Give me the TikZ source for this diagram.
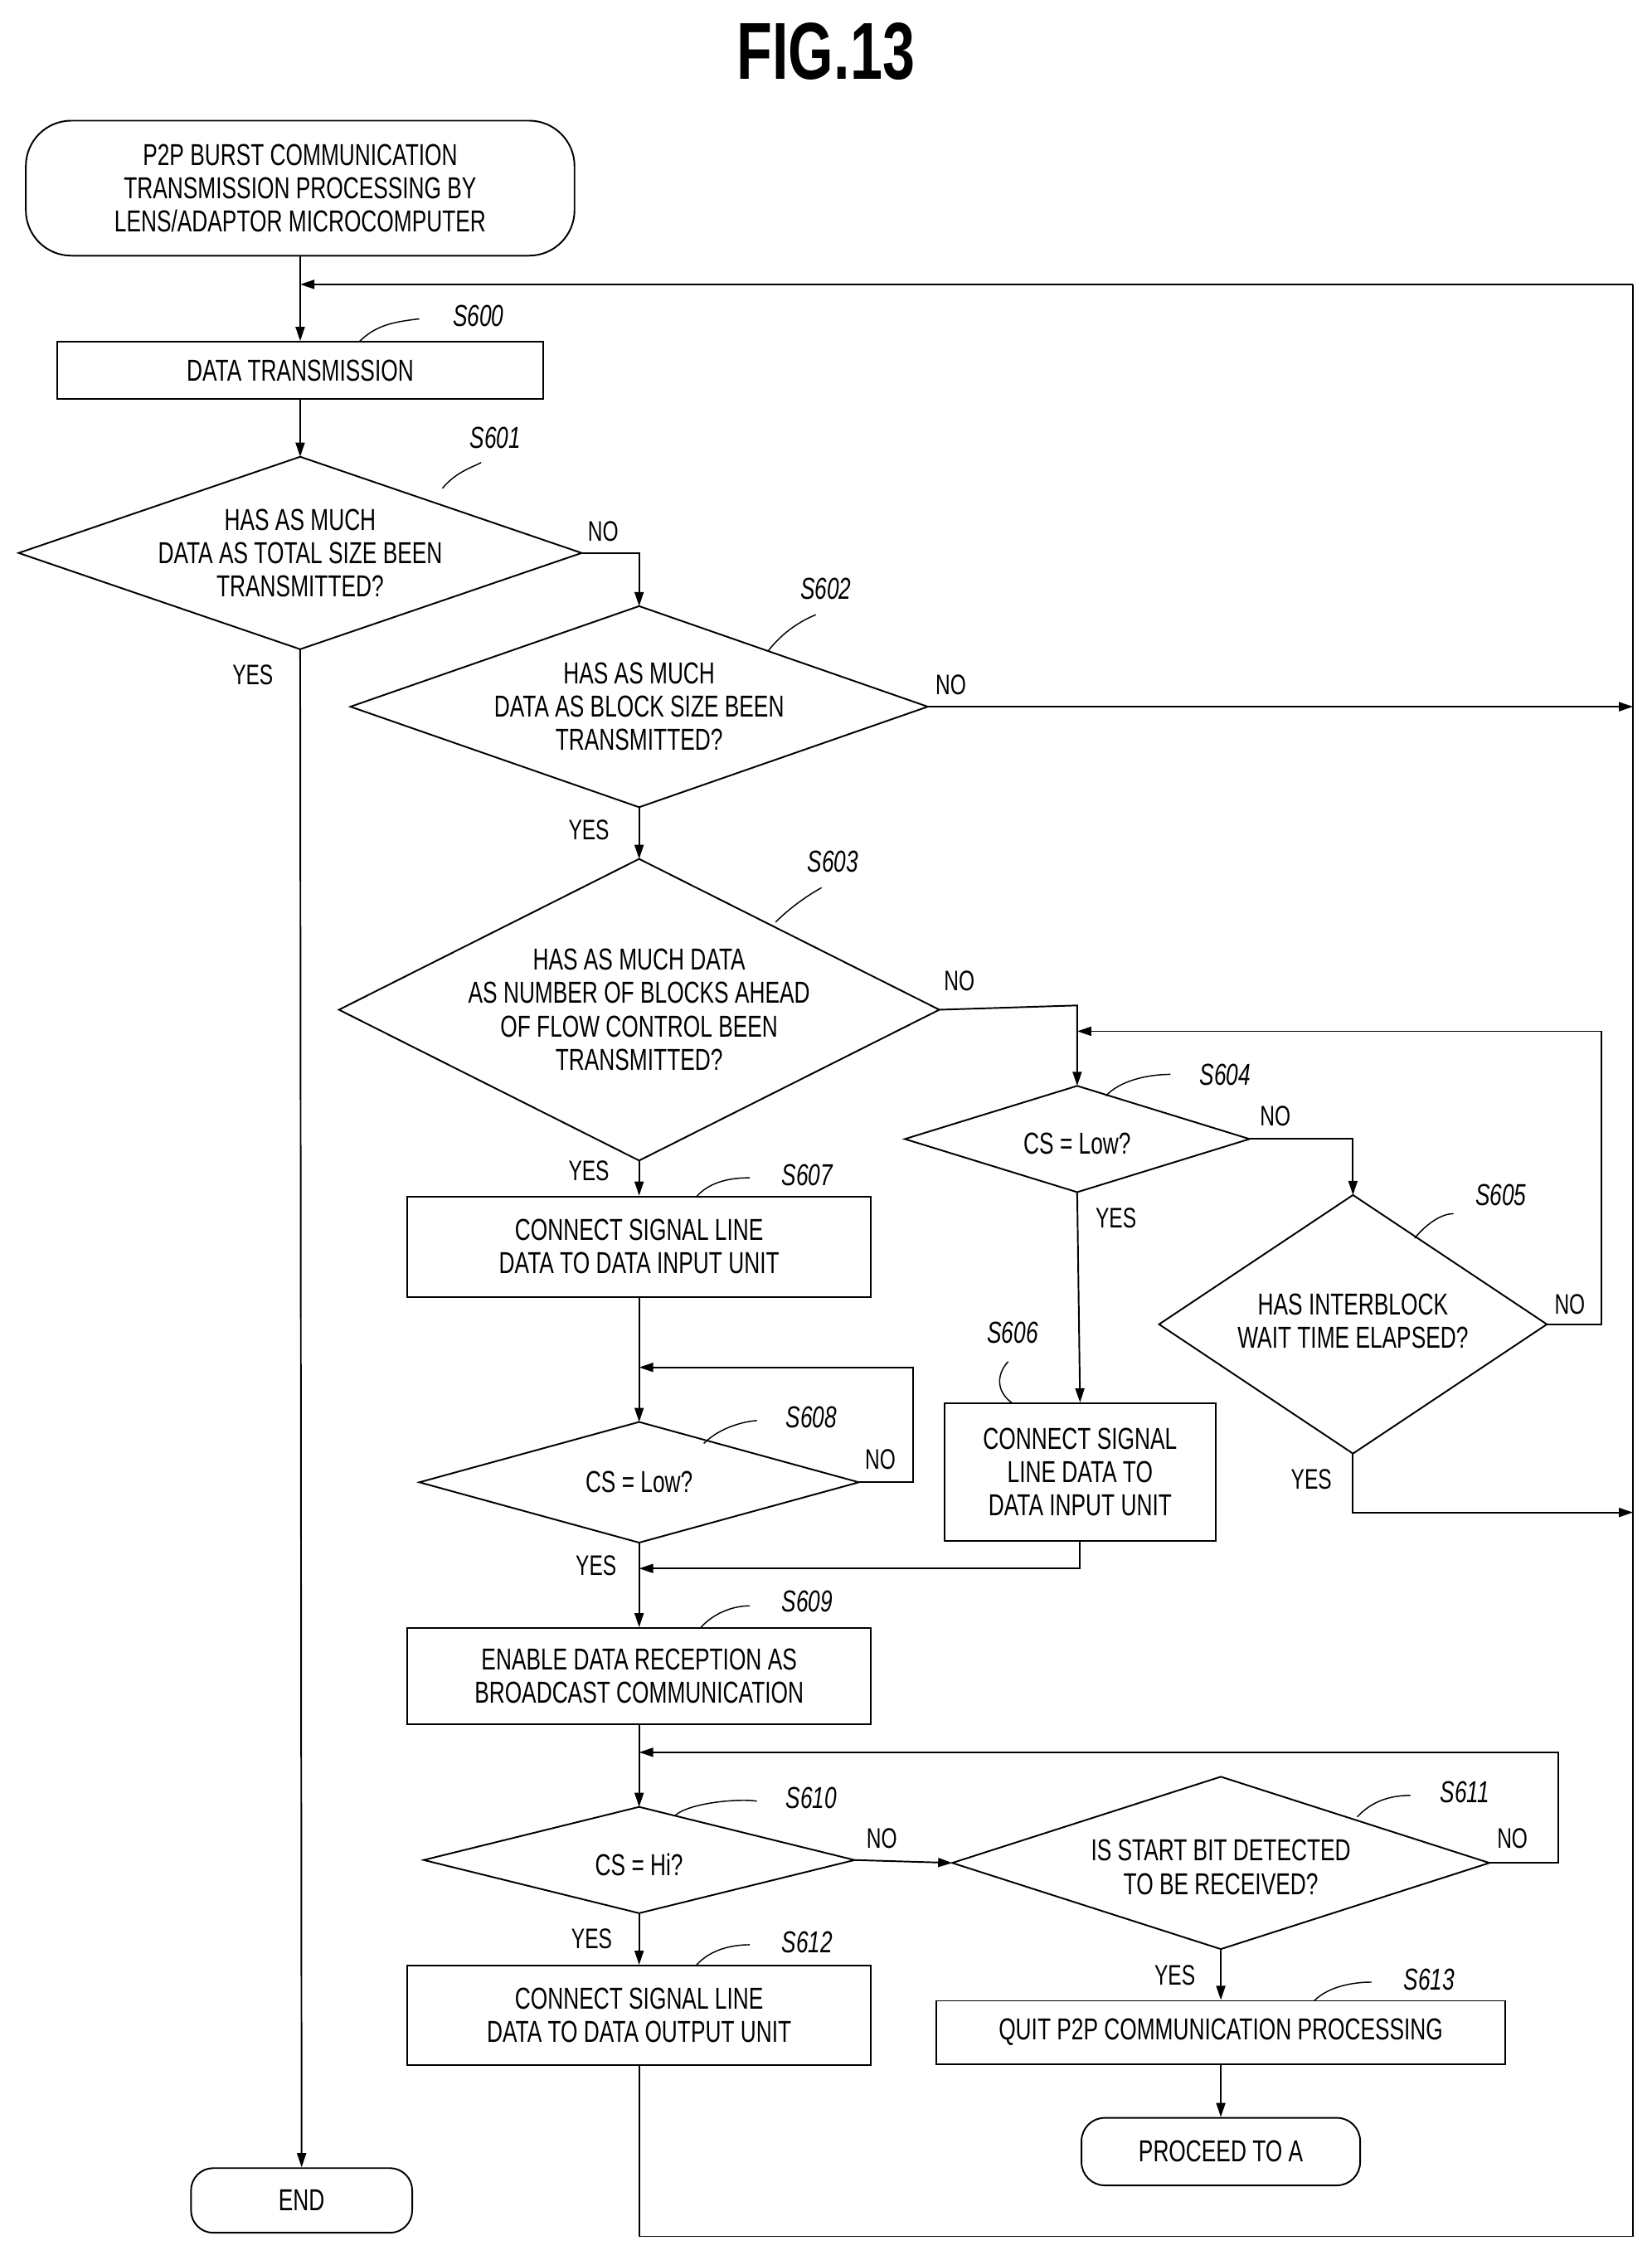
\documentclass[tikz,border=0pt]{standalone}
\usepackage{fontspec}
\setmainfont{Liberation Sans}[FakeStretch=0.72]
\usetikzlibrary{arrows.meta}
\begin{document}
\begin{tikzpicture}[x=0.05cm,y=-0.05cm,line width=1.6pt,
  txt/.style={font=\fontsize{30}{33}\selectfont,align=center,inner sep=0},
  lab/.style={font=\fontsize{30}{33}\selectfont\itshape,inner sep=0},
  yn/.style={font=\fontsize{28}{30}\selectfont,inner sep=0},
  arr/.style={-{Triangle[length=14pt,width=9pt]}},
  lead/.style={line width=1.2pt}]
\useasboundingbox (0,0) rectangle (1150,1570);
\newcommand\dia[5]{%
 \coordinate (#1-n) at (#2,#3-#5); \coordinate (#1-s) at (#2,#3+#5);
 \coordinate (#1-w) at (#2-#4,#3); \coordinate (#1-e) at (#2+#4,#3);
 \draw (#1-n)--(#1-e)--(#1-s)--(#1-w)--cycle;}
\node[font=\fontsize{80}{80}\selectfont\bfseries] (title) at (575,36) {FIG.13};
% start
\node[txt,draw,rounded corners=45pt,minimum width=382*0.05cm,minimum height=94*0.05cm] (start) at (209,131) {P2P BURST COMMUNICATION\\TRANSMISSION PROCESSING BY\\LENS/ADAPTOR MICROCOMPUTER};
\node[txt,draw,minimum width=338*0.05cm,minimum height=40*0.05cm] (s600) at (209,258) {DATA TRANSMISSION};
\node[lab] (l600) at (333,220) {S600};
\draw[lead] (250,238) .. controls (262,226) and (275,224) .. (292,222);
\coordinate (j0) at (209,198);
\draw[arr] (start.south) -- (s600.north);
\draw[arr] (1137,198) -- (j0);
% S601
\dia{d1}{209}{385}{196}{67}
\node[txt] (t601) at (209,385) {HAS AS MUCH\\DATA AS TOTAL SIZE BEEN\\TRANSMITTED?};
\node[lab] (l601) at (345,305) {S601};
\draw[lead] (308,340) .. controls (318,328) and (330,325) .. (335,322);
\draw[arr] (s600.south) -- (d1-n);
\node[yn] at (420,370) {NO};
\node[yn] at (176,470) {YES};
% S602
\dia{d2}{445}{492}{201}{70}
\node[txt] (t602) at (445,492) {HAS AS MUCH\\DATA AS BLOCK SIZE BEEN\\TRANSMITTED?};
\node[lab] (l602) at (575,410) {S602};
\draw[lead] (535,453) .. controls (545,440) and (558,432) .. (568,428);
\draw[arr] (d1-e) -- (445,385) -- (d2-n);
\node[yn] at (662,477) {NO};
\draw[arr] (d2-e) -- (1137,492);
\node[yn] at (410,578) {YES};
% S603
\dia{d3}{445}{703}{209}{105}
\node[txt] (t603) at (445,703) {HAS AS MUCH DATA\\AS NUMBER OF BLOCKS AHEAD\\OF FLOW CONTROL BEEN\\TRANSMITTED?};
\node[lab] (l603) at (580,600) {S603};
\draw[lead] (540,642) .. controls (552,630) and (565,622) .. (572,618);
\draw[arr] (d2-s) -- (d3-n);
\node[yn] at (668,683) {NO};
\node[yn] at (410,815) {YES};
% S607
\node[txt,draw,minimum width=323*0.05cm,minimum height=70*0.05cm] (s607) at (445,868) {CONNECT SIGNAL LINE\\DATA TO DATA INPUT UNIT};
\node[lab] (l607) at (562,818) {S607};
\draw[lead] (485,833) .. controls (495,822) and (510,820) .. (522,820);
\draw[arr] (d3-s) -- (s607.north);
% S608
\dia{d8}{445}{1032}{153}{42}
\node[txt] (t608) at (445,1032) {CS = Low?};
\node[lab] (l608) at (565,987) {S608};
\draw[lead] (490,1005) .. controls (500,995) and (515,990) .. (527,989);
\draw[arr] (s607.south) -- (d8-n);
\draw[arr] (d8-e) -- (636,1032) -- (636,952) -- (445,952);
\node[yn] at (613,1016) {NO};
\node[yn] at (415,1090) {YES};
% S604
\dia{d4}{750}{793}{120}{37}
\node[txt] (t604) at (750,796) {CS = Low?};
\node[lab] (l604) at (853,748) {S604};
\draw[lead] (770,763) .. controls (780,752) and (800,748) .. (815,748);
\draw[arr] (d3-e) -- (750,700) -- (d4-n);
\node[yn] at (888,777) {NO};
\node[yn] at (777,848) {YES};
% S605
\dia{d5}{942}{922}{135}{90}
\node[txt] (t605) at (942,920) {HAS INTERBLOCK\\WAIT TIME ELAPSED?};
\node[lab] (l605) at (1045,832) {S605};
\draw[lead] (985,862) .. controls (995,850) and (1005,845) .. (1012,845);
\draw[arr] (d4-e) -- (942,793) -- (d5-n);
\draw[arr] (d5-e) -- (1115,922) -- (1115,718) -- (750,718);
\node[yn] at (1093,908) {NO};
\node[yn] at (913,1030) {YES};
\draw[arr] (d5-s) -- (942,1053) -- (1137,1053);
% S606
\node[txt,draw,minimum width=189*0.05cm,minimum height=96*0.05cm] (s606) at (752,1025) {CONNECT SIGNAL\\LINE DATA TO\\DATA INPUT UNIT};
\node[lab] (l606) at (705,928) {S606};
\draw[lead] (705,977) .. controls (692,968) and (695,955) .. (702,948);
\draw[arr] (d4-s) -- (s606.north);
\draw[arr] (s606.south) -- (752,1092) -- (445,1092);
% S609
\node[txt,draw,minimum width=323*0.05cm,minimum height=67*0.05cm] (s609) at (445,1167) {ENABLE DATA RECEPTION AS\\BROADCAST COMMUNICATION};
\node[lab] (l609) at (562,1115) {S609};
\draw[lead] (488,1133) .. controls (498,1122) and (512,1118) .. (522,1118);
\draw[arr] (d8-s) -- (s609.north);
% S610
\dia{d10}{445}{1295}{150}{37}
\node[txt] (t610) at (445,1298) {CS = Hi?};
\node[lab] (l610) at (565,1252) {S610};
\draw[lead] (470,1264) .. controls (480,1255) and (515,1252) .. (527,1254);
\draw[arr] (s609.south) -- (d10-n);
\node[yn] at (614,1280) {NO};
\node[yn] at (412,1350) {YES};
% S611
\dia{d11}{850}{1297}{187}{60}
\node[txt] (t611) at (850,1300) {IS START BIT DETECTED\\TO BE RECEIVED?};
\node[lab] (l611) at (1020,1248) {S611};
\draw[lead] (945,1265) .. controls (955,1254) and (968,1250) .. (982,1250);
\draw[arr] (d10-e) -- (d11-w);
\draw[arr] (d11-e) -- (1085,1297) -- (1085,1220) -- (445,1220);
\node[yn] at (1053,1280) {NO};
\node[yn] at (818,1375) {YES};
% S612
\node[txt,draw,minimum width=323*0.05cm,minimum height=69*0.05cm] (s612) at (445,1403) {CONNECT SIGNAL LINE\\DATA TO DATA OUTPUT UNIT};
\node[lab] (l612) at (562,1352) {S612};
\draw[lead] (485,1368) .. controls (495,1357) and (510,1354) .. (522,1354);
\draw[arr] (d10-s) -- (s612.north);
\draw (s612.south) -- (445,1557) -- (1137,1557) -- (1137,198);
% S613
\node[txt,draw,minimum width=396*0.05cm,minimum height=44*0.05cm] (s613) at (850,1415) {QUIT P2P COMMUNICATION PROCESSING};
\node[lab] (l613) at (995,1378) {S613};
\draw[lead] (915,1393) .. controls (925,1383) and (942,1380) .. (955,1380);
\draw[arr] (d11-s) -- (s613.north);
\node[txt,draw,rounded corners=23pt,minimum width=194*0.05cm,minimum height=47*0.05cm] (pa) at (850,1498) {PROCEED TO A};
\draw[arr] (s613.south) -- (pa.north);
% END
\node[txt,draw,rounded corners=22pt,minimum width=154*0.05cm,minimum height=45*0.05cm] (end) at (210,1532) {END};
\draw[arr] (d1-s) -- (end.north);
\end{tikzpicture}
\end{document}
